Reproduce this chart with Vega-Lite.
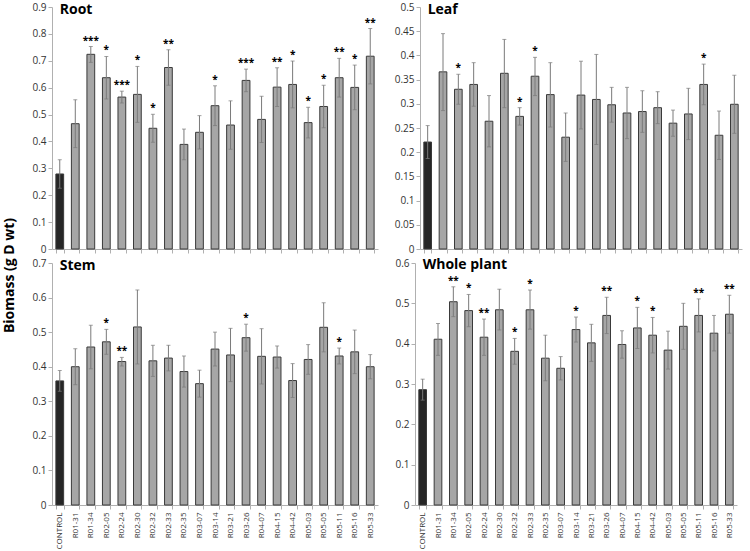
{
  "$schema": "https://vega.github.io/schema/vega-lite/v6.json",
  "padding": {"left": 2, "top": 2, "right": 6, "bottom": 0},
  "background": "white",
  "title": {"text": "Biomass (g D wt)", "orient": "left", "anchor": "middle", "fontSize": 14, "fontWeight": "bold", "font": "Open Sans", "color": "#000000", "offset": 15},
  "datasets": {
    "rootData": [
      {"g": "CONTROL", "v": 0.279, "lo": 0.226, "hi": 0.332, "s": ""},
      {"g": "R01-31", "v": 0.466, "lo": 0.377, "hi": 0.555, "s": ""},
      {"g": "R01-34", "v": 0.724, "lo": 0.694, "hi": 0.753, "s": "***"},
      {"g": "R02-05", "v": 0.637, "lo": 0.558, "hi": 0.716, "s": "*"},
      {"g": "R02-24", "v": 0.565, "lo": 0.543, "hi": 0.587, "s": "***"},
      {"g": "R02-30", "v": 0.575, "lo": 0.471, "hi": 0.679, "s": "*"},
      {"g": "R02-32", "v": 0.449, "lo": 0.397, "hi": 0.501, "s": "*"},
      {"g": "R02-33", "v": 0.675, "lo": 0.609, "hi": 0.741, "s": "**"},
      {"g": "R02-35", "v": 0.389, "lo": 0.332, "hi": 0.446, "s": ""},
      {"g": "R03-07", "v": 0.434, "lo": 0.372, "hi": 0.496, "s": ""},
      {"g": "R03-14", "v": 0.533, "lo": 0.459, "hi": 0.607, "s": "*"},
      {"g": "R03-21", "v": 0.461, "lo": 0.371, "hi": 0.551, "s": ""},
      {"g": "R03-26", "v": 0.627, "lo": 0.585, "hi": 0.669, "s": "***"},
      {"g": "R04-07", "v": 0.482, "lo": 0.396, "hi": 0.568, "s": ""},
      {"g": "R04-15", "v": 0.602, "lo": 0.530, "hi": 0.674, "s": "**"},
      {"g": "R04-42", "v": 0.612, "lo": 0.525, "hi": 0.699, "s": "*"},
      {"g": "R05-03", "v": 0.470, "lo": 0.413, "hi": 0.527, "s": "*"},
      {"g": "R05-05", "v": 0.530, "lo": 0.451, "hi": 0.609, "s": "*"},
      {"g": "R05-11", "v": 0.637, "lo": 0.565, "hi": 0.709, "s": "**"},
      {"g": "R05-16", "v": 0.601, "lo": 0.518, "hi": 0.684, "s": "*"},
      {"g": "R05-33", "v": 0.717, "lo": 0.614, "hi": 0.820, "s": "**"}
    ],
    "leafData": [
      {"g": "CONTROL", "v": 0.221, "lo": 0.187, "hi": 0.255, "s": ""},
      {"g": "R01-31", "v": 0.366, "lo": 0.286, "hi": 0.445, "s": ""},
      {"g": "R01-34", "v": 0.330, "lo": 0.299, "hi": 0.361, "s": "*"},
      {"g": "R02-05", "v": 0.340, "lo": 0.295, "hi": 0.385, "s": ""},
      {"g": "R02-24", "v": 0.264, "lo": 0.211, "hi": 0.317, "s": ""},
      {"g": "R02-30", "v": 0.363, "lo": 0.292, "hi": 0.433, "s": ""},
      {"g": "R02-32", "v": 0.274, "lo": 0.256, "hi": 0.292, "s": "*"},
      {"g": "R02-33", "v": 0.357, "lo": 0.317, "hi": 0.396, "s": "*"},
      {"g": "R02-35", "v": 0.319, "lo": 0.252, "hi": 0.385, "s": ""},
      {"g": "R03-07", "v": 0.231, "lo": 0.181, "hi": 0.281, "s": ""},
      {"g": "R03-14", "v": 0.318, "lo": 0.248, "hi": 0.388, "s": ""},
      {"g": "R03-21", "v": 0.309, "lo": 0.216, "hi": 0.402, "s": ""},
      {"g": "R03-26", "v": 0.298, "lo": 0.262, "hi": 0.334, "s": ""},
      {"g": "R04-07", "v": 0.281, "lo": 0.228, "hi": 0.334, "s": ""},
      {"g": "R04-15", "v": 0.284, "lo": 0.241, "hi": 0.327, "s": ""},
      {"g": "R04-42", "v": 0.292, "lo": 0.259, "hi": 0.325, "s": ""},
      {"g": "R05-03", "v": 0.260, "lo": 0.233, "hi": 0.287, "s": ""},
      {"g": "R05-05", "v": 0.279, "lo": 0.226, "hi": 0.332, "s": ""},
      {"g": "R05-11", "v": 0.340, "lo": 0.298, "hi": 0.382, "s": "*"},
      {"g": "R05-16", "v": 0.235, "lo": 0.185, "hi": 0.285, "s": ""},
      {"g": "R05-33", "v": 0.299, "lo": 0.239, "hi": 0.359, "s": ""}
    ],
    "stemData": [
      {"g": "CONTROL", "v": 0.359, "lo": 0.329, "hi": 0.389, "s": ""},
      {"g": "R01-31", "v": 0.400, "lo": 0.348, "hi": 0.452, "s": ""},
      {"g": "R01-34", "v": 0.457, "lo": 0.394, "hi": 0.520, "s": ""},
      {"g": "R02-05", "v": 0.472, "lo": 0.436, "hi": 0.508, "s": "*"},
      {"g": "R02-24", "v": 0.415, "lo": 0.402, "hi": 0.427, "s": "**"},
      {"g": "R02-30", "v": 0.515, "lo": 0.408, "hi": 0.622, "s": ""},
      {"g": "R02-32", "v": 0.417, "lo": 0.372, "hi": 0.462, "s": ""},
      {"g": "R02-33", "v": 0.425, "lo": 0.388, "hi": 0.462, "s": ""},
      {"g": "R02-35", "v": 0.386, "lo": 0.341, "hi": 0.431, "s": ""},
      {"g": "R03-07", "v": 0.351, "lo": 0.312, "hi": 0.390, "s": ""},
      {"g": "R03-14", "v": 0.451, "lo": 0.402, "hi": 0.500, "s": ""},
      {"g": "R03-21", "v": 0.434, "lo": 0.357, "hi": 0.511, "s": ""},
      {"g": "R03-26", "v": 0.484, "lo": 0.445, "hi": 0.523, "s": "*"},
      {"g": "R04-07", "v": 0.430, "lo": 0.350, "hi": 0.510, "s": ""},
      {"g": "R04-15", "v": 0.428, "lo": 0.396, "hi": 0.460, "s": ""},
      {"g": "R04-42", "v": 0.360, "lo": 0.311, "hi": 0.409, "s": ""},
      {"g": "R05-03", "v": 0.421, "lo": 0.378, "hi": 0.464, "s": ""},
      {"g": "R05-05", "v": 0.514, "lo": 0.443, "hi": 0.585, "s": ""},
      {"g": "R05-11", "v": 0.431, "lo": 0.408, "hi": 0.454, "s": "*"},
      {"g": "R05-16", "v": 0.443, "lo": 0.380, "hi": 0.506, "s": ""},
      {"g": "R05-33", "v": 0.400, "lo": 0.365, "hi": 0.435, "s": ""}
    ],
    "wholeData": [
      {"g": "CONTROL", "v": 0.286, "lo": 0.260, "hi": 0.312, "s": ""},
      {"g": "R01-31", "v": 0.411, "lo": 0.371, "hi": 0.450, "s": ""},
      {"g": "R01-34", "v": 0.504, "lo": 0.467, "hi": 0.541, "s": "**"},
      {"g": "R02-05", "v": 0.482, "lo": 0.442, "hi": 0.522, "s": "*"},
      {"g": "R02-24", "v": 0.416, "lo": 0.371, "hi": 0.461, "s": "**"},
      {"g": "R02-30", "v": 0.484, "lo": 0.434, "hi": 0.535, "s": ""},
      {"g": "R02-32", "v": 0.381, "lo": 0.349, "hi": 0.413, "s": "*"},
      {"g": "R02-33", "v": 0.484, "lo": 0.436, "hi": 0.533, "s": "*"},
      {"g": "R02-35", "v": 0.364, "lo": 0.308, "hi": 0.421, "s": ""},
      {"g": "R03-07", "v": 0.339, "lo": 0.310, "hi": 0.368, "s": ""},
      {"g": "R03-14", "v": 0.435, "lo": 0.404, "hi": 0.466, "s": "*"},
      {"g": "R03-21", "v": 0.402, "lo": 0.356, "hi": 0.448, "s": ""},
      {"g": "R03-26", "v": 0.470, "lo": 0.425, "hi": 0.515, "s": "**"},
      {"g": "R04-07", "v": 0.398, "lo": 0.364, "hi": 0.432, "s": ""},
      {"g": "R04-15", "v": 0.439, "lo": 0.388, "hi": 0.490, "s": "*"},
      {"g": "R04-42", "v": 0.421, "lo": 0.377, "hi": 0.465, "s": "*"},
      {"g": "R05-03", "v": 0.384, "lo": 0.337, "hi": 0.431, "s": ""},
      {"g": "R05-05", "v": 0.443, "lo": 0.386, "hi": 0.500, "s": ""},
      {"g": "R05-11", "v": 0.470, "lo": 0.429, "hi": 0.511, "s": "**"},
      {"g": "R05-16", "v": 0.426, "lo": 0.382, "hi": 0.470, "s": ""},
      {"g": "R05-33", "v": 0.473, "lo": 0.426, "hi": 0.520, "s": "**"}
    ]
  },
  "vconcat": [
    {
      "hconcat": [
        {
          "data": {"name": "rootData"},
          "width": 326, "height": 242,
          "encoding": {"x": {"field": "g", "type": "nominal", "sort": null, "scale": {"paddingInner": 0.5, "paddingOuter": 0.25}, "axis": {"labels": false, "title": null, "tickBand": "extent"}}},
          "layer": [
            {"mark": {"type": "bar", "stroke": "#3a3a3a", "strokeWidth": 1},
             "encoding": {"y": {"field": "v", "type": "quantitative", "scale": {"domain": [0, 0.9]}, "axis": {"values": [0, 0.1, 0.2, 0.3, 0.4, 0.5, 0.6, 0.7, 0.8, 0.9], "format": "~g", "title": null}},
                          "color": {"condition": {"test": "datum.g === 'CONTROL'", "value": "#262626"}, "value": "#a6a6a6"}}},
            {"mark": {"type": "rule", "color": "#7a7a7a", "strokeWidth": 1}, "encoding": {"y": {"field": "lo", "type": "quantitative", "axis": {"values": [0, 0.1, 0.2, 0.3, 0.4, 0.5, 0.6, 0.7, 0.8, 0.9], "format": "~g", "title": null}}, "y2": {"field": "hi"}}},
            {"mark": {"type": "tick", "color": "#7a7a7a", "size": 4, "thickness": 1}, "encoding": {"y": {"field": "hi", "type": "quantitative", "axis": {"values": [0, 0.1, 0.2, 0.3, 0.4, 0.5, 0.6, 0.7, 0.8, 0.9], "format": "~g", "title": null}}}},
            {"mark": {"type": "tick", "color": "#7a7a7a", "size": 4, "thickness": 1}, "encoding": {"y": {"field": "lo", "type": "quantitative", "axis": {"values": [0, 0.1, 0.2, 0.3, 0.4, 0.5, 0.6, 0.7, 0.8, 0.9], "format": "~g", "title": null}}}},
            {"mark": {"type": "text", "baseline": "alphabetic", "dy": -3, "fontSize": 10, "fontWeight": "bold", "font": "Open Sans", "color": "#000000"}, "encoding": {"y": {"field": "hi", "type": "quantitative", "axis": {"values": [0, 0.1, 0.2, 0.3, 0.4, 0.5, 0.6, 0.7, 0.8, 0.9], "format": "~g", "title": null}}, "text": {"field": "s"}}},
            {"data": {"values": [{"t": "Root"}]}, "mark": {"type": "text", "align": "left", "baseline": "alphabetic", "dy": 7, "fontSize": 14, "fontWeight": "bold", "font": "Open Sans", "color": "#000000"}, "encoding": {"x": {"datum": "CONTROL"}, "y": {"datum": 0.9, "type": "quantitative", "axis": {"values": [0, 0.1, 0.2, 0.3, 0.4, 0.5, 0.6, 0.7, 0.8, 0.9], "format": "~g", "title": null}}, "text": {"field": "t"}}}
          ]
        },
        {
          "data": {"name": "leafData"},
          "width": 322, "height": 242,
          "encoding": {"x": {"field": "g", "type": "nominal", "sort": null, "scale": {"paddingInner": 0.5, "paddingOuter": 0.25}, "axis": {"labels": false, "title": null, "tickBand": "extent"}}},
          "layer": [
            {"mark": {"type": "bar", "stroke": "#3a3a3a", "strokeWidth": 1},
             "encoding": {"y": {"field": "v", "type": "quantitative", "scale": {"domain": [0, 0.5]}, "axis": {"values": [0, 0.05, 0.1, 0.15, 0.2, 0.25, 0.3, 0.35, 0.4, 0.45, 0.5], "format": "~g", "title": null}},
                          "color": {"condition": {"test": "datum.g === 'CONTROL'", "value": "#262626"}, "value": "#a6a6a6"}}},
            {"mark": {"type": "rule", "color": "#7a7a7a", "strokeWidth": 1}, "encoding": {"y": {"field": "lo", "type": "quantitative", "axis": {"values": [0, 0.05, 0.1, 0.15, 0.2, 0.25, 0.3, 0.35, 0.4, 0.45, 0.5], "format": "~g", "title": null}}, "y2": {"field": "hi"}}},
            {"mark": {"type": "tick", "color": "#7a7a7a", "size": 4, "thickness": 1}, "encoding": {"y": {"field": "hi", "type": "quantitative", "axis": {"values": [0, 0.05, 0.1, 0.15, 0.2, 0.25, 0.3, 0.35, 0.4, 0.45, 0.5], "format": "~g", "title": null}}}},
            {"mark": {"type": "tick", "color": "#7a7a7a", "size": 4, "thickness": 1}, "encoding": {"y": {"field": "lo", "type": "quantitative", "axis": {"values": [0, 0.05, 0.1, 0.15, 0.2, 0.25, 0.3, 0.35, 0.4, 0.45, 0.5], "format": "~g", "title": null}}}},
            {"mark": {"type": "text", "baseline": "alphabetic", "dy": -3, "fontSize": 10, "fontWeight": "bold", "font": "Open Sans", "color": "#000000"}, "encoding": {"y": {"field": "hi", "type": "quantitative", "axis": {"values": [0, 0.05, 0.1, 0.15, 0.2, 0.25, 0.3, 0.35, 0.4, 0.45, 0.5], "format": "~g", "title": null}}, "text": {"field": "s"}}},
            {"data": {"values": [{"t": "Leaf"}]}, "mark": {"type": "text", "align": "left", "baseline": "alphabetic", "dy": 7, "fontSize": 14, "fontWeight": "bold", "font": "Open Sans", "color": "#000000"}, "encoding": {"x": {"datum": "CONTROL"}, "y": {"datum": 0.5, "type": "quantitative", "axis": {"values": [0, 0.05, 0.1, 0.15, 0.2, 0.25, 0.3, 0.35, 0.4, 0.45, 0.5], "format": "~g", "title": null}}, "text": {"field": "t"}}}
          ]
        }
      ]
    },
    {
      "hconcat": [
        {
          "data": {"name": "stemData"},
          "width": 326, "height": 242,
          "encoding": {"x": {"field": "g", "type": "nominal", "sort": null, "scale": {"paddingInner": 0.5, "paddingOuter": 0.25}, "axis": {"labelAngle": -90, "title": null, "tickBand": "extent", "labelPadding": 3, "labelFontSize": 8}}},
          "layer": [
            {"mark": {"type": "bar", "stroke": "#3a3a3a", "strokeWidth": 1},
             "encoding": {"y": {"field": "v", "type": "quantitative", "scale": {"domain": [0, 0.7]}, "axis": {"values": [0, 0.1, 0.2, 0.3, 0.4, 0.5, 0.6, 0.7], "format": "~g", "title": null}},
                          "color": {"condition": {"test": "datum.g === 'CONTROL'", "value": "#262626"}, "value": "#a6a6a6"}}},
            {"mark": {"type": "rule", "color": "#7a7a7a", "strokeWidth": 1}, "encoding": {"y": {"field": "lo", "type": "quantitative", "axis": {"values": [0, 0.1, 0.2, 0.3, 0.4, 0.5, 0.6, 0.7], "format": "~g", "title": null}}, "y2": {"field": "hi"}}},
            {"mark": {"type": "tick", "color": "#7a7a7a", "size": 4, "thickness": 1}, "encoding": {"y": {"field": "hi", "type": "quantitative", "axis": {"values": [0, 0.1, 0.2, 0.3, 0.4, 0.5, 0.6, 0.7], "format": "~g", "title": null}}}},
            {"mark": {"type": "tick", "color": "#7a7a7a", "size": 4, "thickness": 1}, "encoding": {"y": {"field": "lo", "type": "quantitative", "axis": {"values": [0, 0.1, 0.2, 0.3, 0.4, 0.5, 0.6, 0.7], "format": "~g", "title": null}}}},
            {"mark": {"type": "text", "baseline": "alphabetic", "dy": -3, "fontSize": 10, "fontWeight": "bold", "font": "Open Sans", "color": "#000000"}, "encoding": {"y": {"field": "hi", "type": "quantitative", "axis": {"values": [0, 0.1, 0.2, 0.3, 0.4, 0.5, 0.6, 0.7], "format": "~g", "title": null}}, "text": {"field": "s"}}},
            {"data": {"values": [{"t": "Stem"}]}, "mark": {"type": "text", "align": "left", "baseline": "alphabetic", "dy": 7, "fontSize": 14, "fontWeight": "bold", "font": "Open Sans", "color": "#000000"}, "encoding": {"x": {"datum": "CONTROL"}, "y": {"datum": 0.7, "type": "quantitative", "axis": {"values": [0, 0.1, 0.2, 0.3, 0.4, 0.5, 0.6, 0.7], "format": "~g", "title": null}}, "text": {"field": "t"}}}
          ]
        },
        {
          "data": {"name": "wholeData"},
          "width": 322, "height": 242,
          "encoding": {"x": {"field": "g", "type": "nominal", "sort": null, "scale": {"paddingInner": 0.5, "paddingOuter": 0.25}, "axis": {"labelAngle": -90, "title": null, "tickBand": "extent", "labelPadding": 3, "labelFontSize": 8}}},
          "layer": [
            {"mark": {"type": "bar", "stroke": "#3a3a3a", "strokeWidth": 1},
             "encoding": {"y": {"field": "v", "type": "quantitative", "scale": {"domain": [0, 0.6]}, "axis": {"values": [0, 0.1, 0.2, 0.3, 0.4, 0.5, 0.6], "format": "~g", "title": null}},
                          "color": {"condition": {"test": "datum.g === 'CONTROL'", "value": "#262626"}, "value": "#a6a6a6"}}},
            {"mark": {"type": "rule", "color": "#7a7a7a", "strokeWidth": 1}, "encoding": {"y": {"field": "lo", "type": "quantitative", "axis": {"values": [0, 0.1, 0.2, 0.3, 0.4, 0.5, 0.6], "format": "~g", "title": null}}, "y2": {"field": "hi"}}},
            {"mark": {"type": "tick", "color": "#7a7a7a", "size": 4, "thickness": 1}, "encoding": {"y": {"field": "hi", "type": "quantitative", "axis": {"values": [0, 0.1, 0.2, 0.3, 0.4, 0.5, 0.6], "format": "~g", "title": null}}}},
            {"mark": {"type": "tick", "color": "#7a7a7a", "size": 4, "thickness": 1}, "encoding": {"y": {"field": "lo", "type": "quantitative", "axis": {"values": [0, 0.1, 0.2, 0.3, 0.4, 0.5, 0.6], "format": "~g", "title": null}}}},
            {"mark": {"type": "text", "baseline": "alphabetic", "dy": -3, "fontSize": 10, "fontWeight": "bold", "font": "Open Sans", "color": "#000000"}, "encoding": {"y": {"field": "hi", "type": "quantitative", "axis": {"values": [0, 0.1, 0.2, 0.3, 0.4, 0.5, 0.6], "format": "~g", "title": null}}, "text": {"field": "s"}}},
            {"data": {"values": [{"t": "Whole plant"}]}, "mark": {"type": "text", "align": "left", "baseline": "alphabetic", "dy": 6, "fontSize": 14, "fontWeight": "bold", "font": "Open Sans", "color": "#000000"}, "encoding": {"x": {"datum": "CONTROL"}, "y": {"datum": 0.6, "type": "quantitative", "axis": {"values": [0, 0.1, 0.2, 0.3, 0.4, 0.5, 0.6], "format": "~g", "title": null}}, "text": {"field": "t"}}}
          ]
        }
      ]
    }
  ],
  "spacing": 4,
  "config": {
    "view": {"stroke": null},
    "concat": {"spacing": 16},
    "axis": {"domainColor": "#b0b0b0", "tickColor": "#b0b0b0", "labelColor": "#333333", "labelFont": "Open Sans", "labelFontSize": 10, "grid": false, "tickSize": 4, "labelPadding": 2}
  }
}
